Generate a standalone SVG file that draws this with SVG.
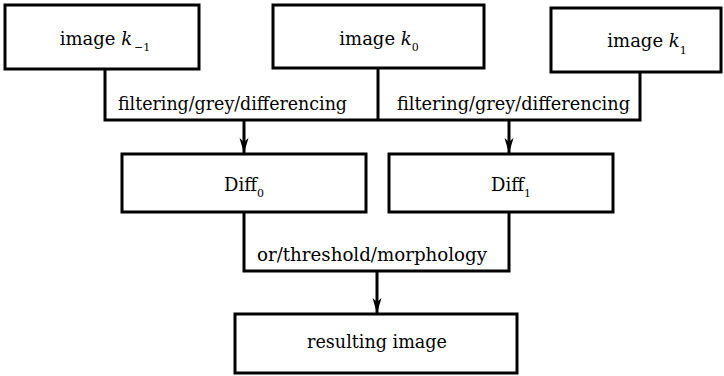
<svg xmlns="http://www.w3.org/2000/svg" width="724" height="376" viewBox="0 0 724 376">
<style>
.box{fill:#fff;stroke:#000;stroke-width:3}
.ln{fill:none;stroke:#000;stroke-width:3}
.sub{font-size:11px}
</style>
<defs>
<marker id="ah" markerWidth="16" markerHeight="10" refX="15" refY="5" orient="auto" markerUnits="userSpaceOnUse">
<path d="M0,0.5 L15,5 L0,9.5 L4,5 Z" fill="#000"/>
</marker>
</defs>
<g font-family="DejaVu Serif, serif" font-size="18" fill="#000" text-anchor="middle">
<g id="connectors">
<polyline class="ln" points="105,69 105,120 640,120 640,72"/>
<line class="ln" x1="378" y1="68" x2="378" y2="120"/>
<line class="ln" x1="244" y1="120" x2="244" y2="153" marker-end="url(#ah)"/>
<line class="ln" x1="509" y1="120" x2="509" y2="153" marker-end="url(#ah)"/>
<polyline class="ln" points="244,212 244,271 509,271 509,212"/>
<line class="ln" x1="377" y1="271" x2="377" y2="313" marker-end="url(#ah)"/>
<text x="232.5" y="110" textLength="229" lengthAdjust="spacingAndGlyphs">filtering/grey/differencing</text>
<text x="513.5" y="110" textLength="233" lengthAdjust="spacingAndGlyphs">filtering/grey/differencing</text>
<text x="372" y="261" textLength="230" lengthAdjust="spacingAndGlyphs">or/threshold/morphology</text>
</g>
<g id="img_km1">
<rect class="box" x="5" y="5" width="194" height="64"/>
<text x="105" y="45">image <tspan font-style="italic">k</tspan><tspan class="sub" dx="2" dy="6">−1</tspan></text>
</g>
<g id="img_k0">
<rect class="box" x="273" y="5" width="211" height="63"/>
<text x="379" y="45">image <tspan font-style="italic">k</tspan><tspan class="sub" dy="6">0</tspan></text>
</g>
<g id="img_k1">
<rect class="box" x="551" y="8" width="170" height="64"/>
<text x="647" y="47">image <tspan font-style="italic">k</tspan><tspan class="sub" dy="7">1</tspan></text>
</g>
<g id="diff0">
<rect class="box" x="122" y="154" width="244" height="58"/>
<text x="244" y="191">Diff<tspan class="sub" dy="6">0</tspan></text>
</g>
<g id="diff1">
<rect class="box" x="389" y="154" width="224" height="58"/>
<text x="511" y="191">Diff<tspan class="sub" dy="6">1</tspan></text>
</g>
<g id="result">
<rect class="box" x="235" y="314" width="282" height="59"/>
<text x="377" y="348" textLength="140" lengthAdjust="spacingAndGlyphs">resulting image</text>
</g>
</g>
</svg>
